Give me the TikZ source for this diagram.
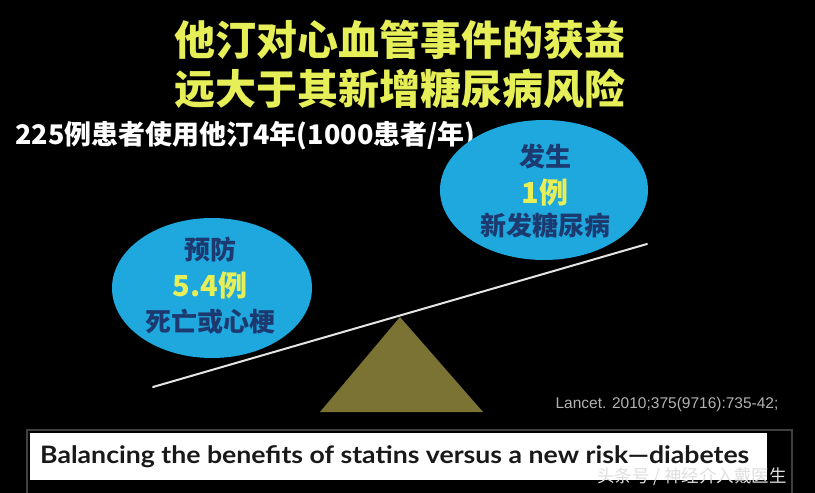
\documentclass[tikz,border=0pt]{standalone}
\usepackage{fontspec}
\setmainfont{Liberation Sans}
\newfontfamily\cjk{Noto Sans CJK SC}
\newfontfamily\boxfont[FakeStretch=1.11]{Lato}
\usetikzlibrary{shapes.geometric}
\definecolor{titleyellow}{RGB}{230,238,88}
\definecolor{bubbleblue}{RGB}{30,168,222}
\definecolor{bubbleink}{RGB}{28,58,112}
\definecolor{fulcrumolive}{RGB}{122,115,52}
\tikzset{
    bubble/.style={ellipse,fill=bubbleblue,inner sep=0pt},
    bubbletext/.style={text=bubbleink,font=\cjk\bfseries\fontsize{26}{26}\selectfont,inner sep=0pt},
    bubblenum/.style={text=titleyellow,font=\cjk\bfseries\fontsize{29}{29}\selectfont,inner sep=0pt},
    titletext/.style={text=titleyellow,font=\cjk\bfseries\fontsize{41}{41}\selectfont,inner sep=0pt}
}
\begin{document}
\begin{tikzpicture}[x=1pt,y=-1pt]
    %% background
    \useasboundingbox (0,0) rectangle (815,493);
    \fill[black] (0,0) rectangle (815,493);
    %% title
    \node[titletext] (titleA) at (400,40) {他汀对心血管事件的获益};
    \node[titletext] (titleB) at (400,89) {远大于其新增糖尿病风险};
    \node[text=white,font=\cjk\bfseries\fontsize{27}{27}\selectfont,inner sep=0pt,anchor=west] (cohort) at (15,136) {225例患者使用他汀4年(1000患者/年)};
    %% bubbles
    \node[bubble,minimum width=200pt,minimum height=140pt] (prevent) at (212,288) {};
    \node[bubble,minimum width=208pt,minimum height=140pt] (cause) at (544,190) {};
    \foreach \nm/\x/\y/\st/\txt in {preventA/210/250/bubbletext/预防,preventB/210/285/bubblenum/5.4例,preventC/210/322/bubbletext/死亡或心梗,
                                  causeA/545/157/bubbletext/发生,causeB/545/192/bubblenum/1例,causeC/545/225/bubbletext/新发糖尿病}
        \node[\st] (\nm) at (\x,\y) {\txt};
    %% balance
    \fill[fulcrumolive] (400,317) -- (483,412) -- (320,412) -- cycle;
    \coordinate (beamleft) at (153,387);
    \coordinate (beamright) at (647,244);
    \draw[line width=2pt,color=white!90!black,line cap=round] (beamleft) -- (beamright);
    %% reference
    \node[text=black!30!white,font=\fontsize{15.5}{15.5}\selectfont,inner sep=0pt] (lancet) at (667,404) {Lancet. 2010;375(9716):735-42;};
    %% caption box
    \draw[line width=1.5pt,color=black!75!white] (27,430) rectangle (792,510);
    \fill[white] (30,433) rectangle (767,480);
    \node[text=black!90!white,font=\boxfont\bfseries\fontsize{24}{24}\selectfont,inner sep=0pt,anchor=base west] (caption) at (40,463) {Balancing the benefits of statins versus a new risk—diabetes};
    \node[text=white!88!black,font=\cjk\fontsize{17.5}{17.5}\selectfont,inner sep=0pt,anchor=west] (mark) at (597,477) {头条号 / 神经介入戴医生};
\end{tikzpicture}
\end{document}
